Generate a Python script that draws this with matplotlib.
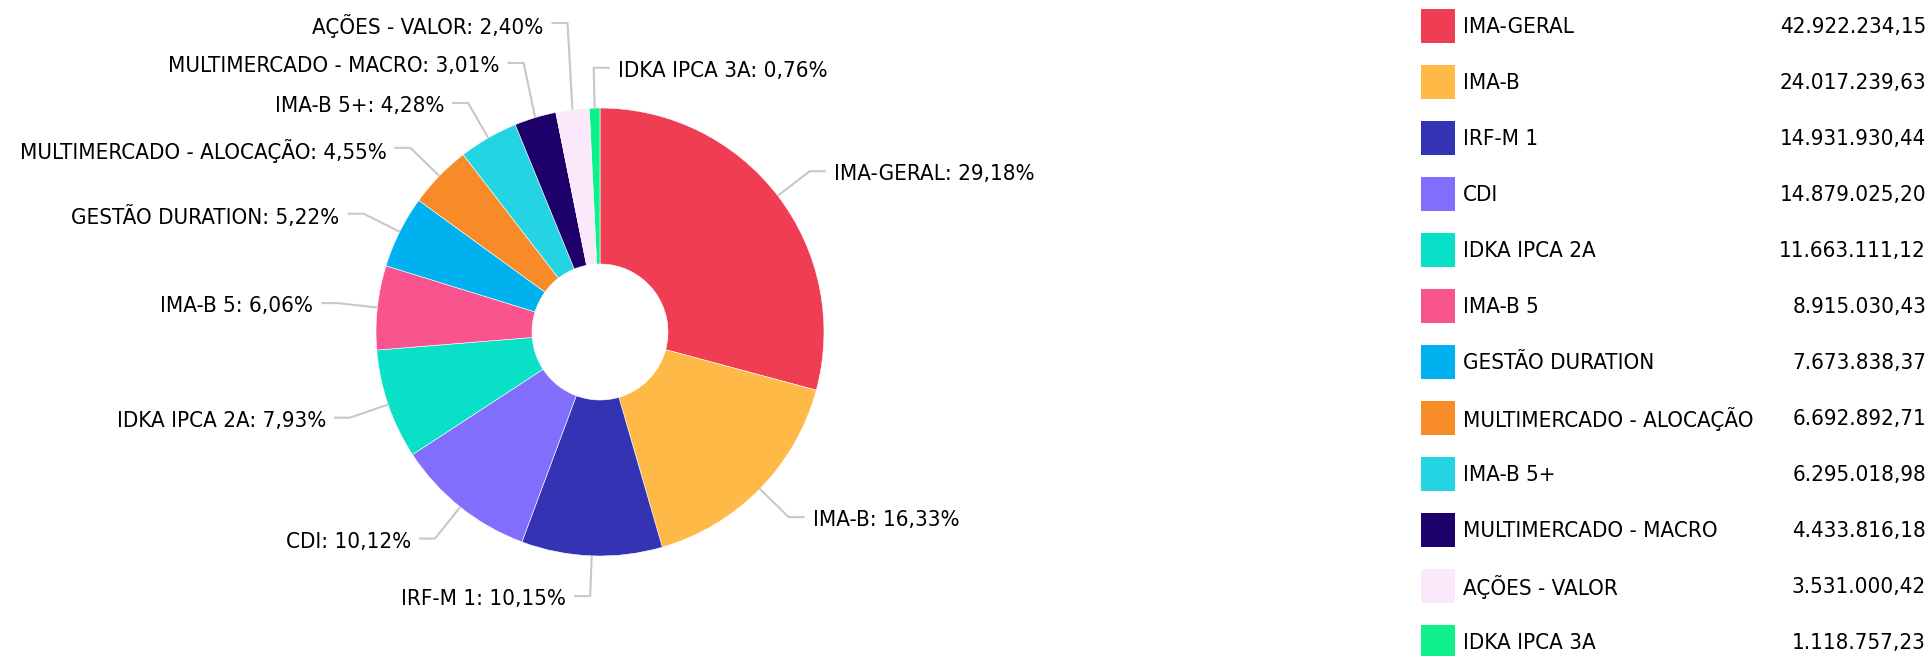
import numpy as np
import matplotlib
matplotlib.use("Agg")
import matplotlib.pyplot as plt
from matplotlib import font_manager
from matplotlib.patches import Rectangle

# Data
categories = ["IMA-GERAL", "IMA-B", "IRF-M 1", "CDI", "IDKA IPCA 2A", "IMA-B 5",
              "GESTÃO DURATION", "MULTIMERCADO - ALOCAÇÃO", "IMA-B 5+",
              "MULTIMERCADO - MACRO", "AÇÕES - VALOR", "IDKA IPCA 3A"]
values = [42922234.15, 24017239.63, 14931930.44, 14879025.20, 11663111.12, 8915030.43,
          7673838.37, 6692892.71, 6295018.98, 4433816.18, 3531000.42, 1118757.23]
colors = ["#ef3e53", "#ffb946", "#3433b4", "#826efc", "#08e0c8", "#f9548e",
          "#00b1f0", "#f78b27", "#25d4e2", "#1e006b", "#fce8fb", "#0df08a"]


def brl(v):
    return f"{v:,.2f}".replace(",", "X").replace(".", ",").replace("X", ".")


# pick a narrow sans if present (closest to the Tahoma look)
cond = [f for f in font_manager.fontManager.ttflist
        if f.name == "DejaVu Sans" and f.stretch == "condensed" and f.weight in (400, "normal")]
if cond:
    FONT = dict(family="DejaVu Sans", fontstretch="condensed", fontsize=16)
else:
    FONT = dict(family="DejaVu Sans", fontsize=14.7)

W, H = 1930, 656
fig = plt.figure(figsize=(W / 100, H / 100), dpi=100)
ax = fig.add_axes([0, 0, 1, 1])

cx, cy = 600, H - 332
R = 224
inner = 68

ax.pie(values, colors=colors, startangle=90, counterclock=False, radius=R,
       center=(cx, cy), wedgeprops=dict(width=R - inner, edgecolor="white", linewidth=0.4))
ax.set_xlim(0, W)
ax.set_ylim(0, H)
ax.set_aspect("equal")
ax.axis("off")

# label geometry
vals = np.array(values)
frac = vals / vals.sum()
mids = (np.cumsum(frac) - frac / 2) * 2 * np.pi  # clockwise from top
pct = frac * 100

r_elb = R * 1.18
gap = 40
labels = []
for i, th in enumerate(mids):
    s_, c_ = np.sin(th), np.cos(th)
    side = 1 if (s_ > 0 or (c_ > 0 and s_ > -0.05)) else -1
    ex, ey = cx + R * s_, cy + R * c_
    bx, by = cx + r_elb * s_, cy + r_elb * c_
    labels.append(dict(i=i, side=side, ex=ex, ey=ey, bx=bx, by=by))

# push crowded labels apart (upwards)
for s in (1, -1):
    grp = sorted([l for l in labels if l["side"] == s], key=lambda l: l["by"])
    for k in range(1, len(grp)):
        if grp[k]["by"] - grp[k - 1]["by"] < gap:
            grp[k]["by"] = grp[k - 1]["by"] + gap

for l in labels:
    i, s = l["i"], l["side"]
    hx = l["bx"] + s * 16
    ax.plot([l["ex"], l["bx"], hx], [l["ey"], l["by"], l["by"]],
            color="#c8c8c8", lw=1.5, solid_capstyle="butt", zorder=1)
    txt = f"{categories[i]}: {pct[i]:.2f}".replace(".", ",") + "%"
    ax.text(hx + s * 8, l["by"] - 3, txt, ha="left" if s > 0 else "right",
            va="center", color="black", **FONT)

# legend
for i, (cat, v, c) in enumerate(zip(categories, values, colors)):
    yc = H - (26 + 56 * i)
    ax.add_patch(Rectangle((1421, yc - 17), 34, 34, facecolor=c, edgecolor="none"))
    ax.text(1463, yc - 1, cat, ha="left", va="center", color="black", **FONT)
    ax.text(1926, yc - 1, brl(v), ha="right", va="center", color="black", **FONT)

fig.savefig("out.png", dpi=100)
